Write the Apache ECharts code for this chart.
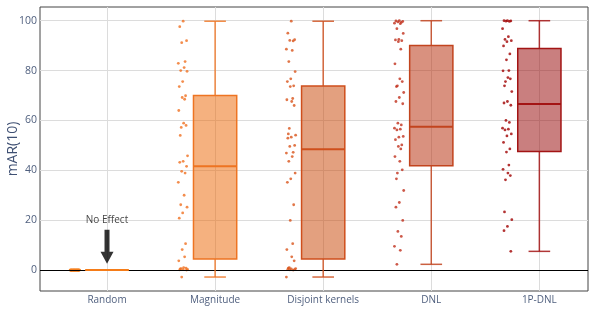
<!DOCTYPE html>
<html>
<head>
<meta charset="utf-8">
<script src="https://cdn.jsdelivr.net/npm/echarts@6/dist/echarts.min.js"></script>
<style>
  html, body { margin: 0; padding: 0; background: #fff; }
  #chart { width: 595px; height: 332px; }
</style>
</head>
<body>
<div id="chart"></div>
<script>
const categories = ['Random', 'Magnitude', 'Disjoint kernels', 'DNL', '1P-DNL']
const yTicks = [0, 20, 40, 60, 80, 100]

// box stats as drawn: [min, q1, median, q3, max]
const randomBox = [0, 0, 0, 0, 0]
const magnitudeBox = [-2.8, 4.4, 41.6, 70.0, 99.8]
const disjointBox = [-2.8, 4.4, 48.4, 73.8, 99.8]
const dnlBox = [2.3, 41.8, 57.5, 90.1, 100]
const oneShotBox = [7.5, 47.5, 66.6, 88.9, 100]

// individual runs (points left of each box)
const randomPts = new Array(45).fill(0)
const magnitudePts = [99.8, 97.6, 92.0, 91.2, 83.6, 82.9, 81.2, 80.0, 79.7, 75.6, 73.6, 69.9, 69.2, 68.5, 64.0,
  58.9, 58.0, 57.2, 54.0, 45.8, 43.6, 43.2, 41.6, 39.6, 38.9, 35.2, 30.0, 26.2, 25.2, 22.9, 20.8, 10.6, 8.2,
  5.3, 3.7, 1.0, 0.8, 0.6, 0.5, 0.3, 0.2, 0.1, 0.0, -2.8]
const disjointPts = [99.8, 95.0, 92.4, 92.1, 91.9, 88.6, 88.1, 83.6, 79.6, 76.7, 75.6, 73.9, 73.6, 68.8, 68.3,
  67.6, 66.0, 56.8, 54.6, 54.1, 53.3, 52.9, 50.0, 49.6, 47.2, 46.9, 45.5, 43.6, 38.9, 36.6, 35.2, 26.2, 19.9,
  10.6, 8.2, 5.3, 3.7, 1.0, 0.8, 0.6, 0.5, 0.3, 0.2, 0.1, 0.0, -2.8]
const dnlPts = [100.0, 99.9, 99.7, 99.5, 99.3, 99.0, 98.8, 96.8, 94.9, 92.5, 92.3, 92.0, 91.6, 88.6, 82.7, 76.7,
  75.6, 73.9, 73.6, 71.2, 69.2, 67.6, 66.7, 58.9, 58.2, 56.9, 56.5, 56.2, 53.6, 53.3, 52.3, 50.2, 49.6, 48.6,
  45.5, 43.6, 40.2, 38.9, 36.6, 31.9, 27.1, 25.2, 19.9, 15.5, 13.5, 9.5, 7.9, 2.3]
const oneShotPts = [100.0, 100.0, 99.9, 99.8, 99.7, 96.8, 93.6, 92.5, 92.0, 91.6, 89.9, 86.7, 84.3, 80.0, 79.9,
  77.2, 76.7, 75.6, 73.9, 71.6, 67.6, 67.0, 66.1, 60.0, 59.2, 56.9, 56.5, 56.2, 54.6, 53.8, 51.2, 48.6, 47.3,
  42.1, 40.4, 38.9, 37.9, 36.2, 23.3, 20.2, 17.5, 15.8, 7.5]

const boxes = [randomBox, magnitudeBox, disjointBox, dnlBox, oneShotBox]
const points = [randomPts, magnitudePts, disjointPts, dnlPts, oneShotPts]

const lineColors = ['#f57c18', '#ee7422', '#cf4f1c', '#c2441e', '#a31414']
const fillColors = ['rgba(236,100,0,0.5)', 'rgba(236,100,0,0.5)', 'rgba(200,66,0,0.5)', 'rgba(180,36,0,0.5)', 'rgba(148,0,0,0.5)']
const pointColors = ['#f5801e', '#f07020', '#d9541a', '#c0301c', '#a00000']

// fixed jitter pattern for the strip points
const jitter = [0.1, -0.6, 0.8, -0.2, 0.5, -0.9, 0.3, -0.4, 0.9, 0, -0.7, 0.6, -0.1, 0.4, -0.8, 0.2, 0.7, -0.3, -0.5, 1]

const font = 'Open Sans'
const chart = echarts.init(document.getElementById('chart'))

const boxSeries = {
  type: 'custom',
  z: 5,
  data: boxes.map((b, i) => [i].concat(b)),
  renderItem: function (params, api) {
    const i = api.value(0)
    const c = k => api.coord([i, api.value(k)])
    const half = api.size([0.2, 0])[0]
    const cap = half / 2
    const x = c(1)[0]
    const yMin = c(1)[1], yQ1 = c(2)[1], yMed = c(3)[1], yQ3 = c(4)[1], yMax = c(5)[1]
    const color = lineColors[i]
    const ls = { stroke: color, lineWidth: 1.5, opacity: 0.85 }
    return {
      type: 'group',
      children: [
        { type: 'line', shape: { x1: x, y1: yMax, x2: x, y2: yQ3 }, style: ls },
        { type: 'line', shape: { x1: x, y1: yQ1, x2: x, y2: yMin }, style: ls },
        { type: 'line', shape: { x1: x - cap, y1: yMax, x2: x + cap, y2: yMax }, style: ls },
        { type: 'line', shape: { x1: x - cap, y1: yMin, x2: x + cap, y2: yMin }, style: ls },
        { type: 'rect', shape: { x: x - half, y: yQ3, width: half * 2, height: yQ1 - yQ3 },
          style: { fill: fillColors[i], stroke: color, lineWidth: i === 0 ? 2 : 1.5 } },
        { type: 'line', shape: { x1: x - half, y1: yMed, x2: x + half, y2: yMed }, style: { stroke: color, lineWidth: 2 } }
      ]
    }
  }
}

const pointSeries = points.map((vals, i) => ({
  type: 'scatter',
  z: 3,
  symbolSize: 2.8,
  itemStyle: { color: pointColors[i] },
  data: vals.map((v, k) => [i - 0.30 + jitter[k % jitter.length] * 0.045, v]),
  markLine: i === 0 ? {
    silent: true,
    symbol: 'none',
    label: { show: false },
    lineStyle: { color: '#000', width: 1.2, type: 'solid' },
    data: [{ yAxis: 0 }]
  } : undefined
}))

const arrowSeries = {
  type: 'scatter',
  z: 6,
  silent: true,
  symbol: 'path://M4,0 L9,0 L9,22 L13,22 L6.5,34 L0,22 L4,22 Z',
  symbolSize: [13, 34],
  itemStyle: { color: '#000' },
  label: {
    show: true, position: 'top', distance: 5, formatter: 'No Effect',
    color: '#111', fontFamily: font, fontSize: 10
  },
  data: [[0, 9.3]]
}

chart.setOption({
  animation: false,
  textStyle: { fontFamily: font },
  grid: {
    left: 40, right: 7, top: 7, bottom: 41,
    outerBoundsMode: 'none',
    show: true, borderColor: '#444', borderWidth: 1
  },
  xAxis: {
    type: 'value',
    min: -0.62,
    max: 4.45,
    axisLine: { show: false },
    axisTick: { show: false, customValues: [0, 1, 2, 3, 4] },
    axisLabel: {
      customValues: [0, 1, 2, 3, 4],
      formatter: v => categories[Math.round(v)] || '',
      color: '#4f5f7e', fontSize: 10, margin: 4
    },
    splitLine: { show: true, lineStyle: { color: '#dcdcdc', width: 1 } }
  },
  yAxis: {
    type: 'value',
    min: -8.4,
    max: 105.5,
    name: 'mAR(10)',
    nameLocation: 'middle',
    nameGap: 20,
    nameMoveOverlap: false,
    nameTextStyle: { color: '#3f5073', fontSize: 14, fontFamily: font },
    axisLine: { show: false },
    axisTick: { show: false, customValues: yTicks },
    axisLabel: { customValues: yTicks, color: '#4f5f7e', fontSize: 10.5, margin: 3 },
    splitLine: { show: true, lineStyle: { color: '#dcdcdc', width: 1 } }
  },
  series: pointSeries.concat([boxSeries, arrowSeries])
})
</script>
</body>
</html>
